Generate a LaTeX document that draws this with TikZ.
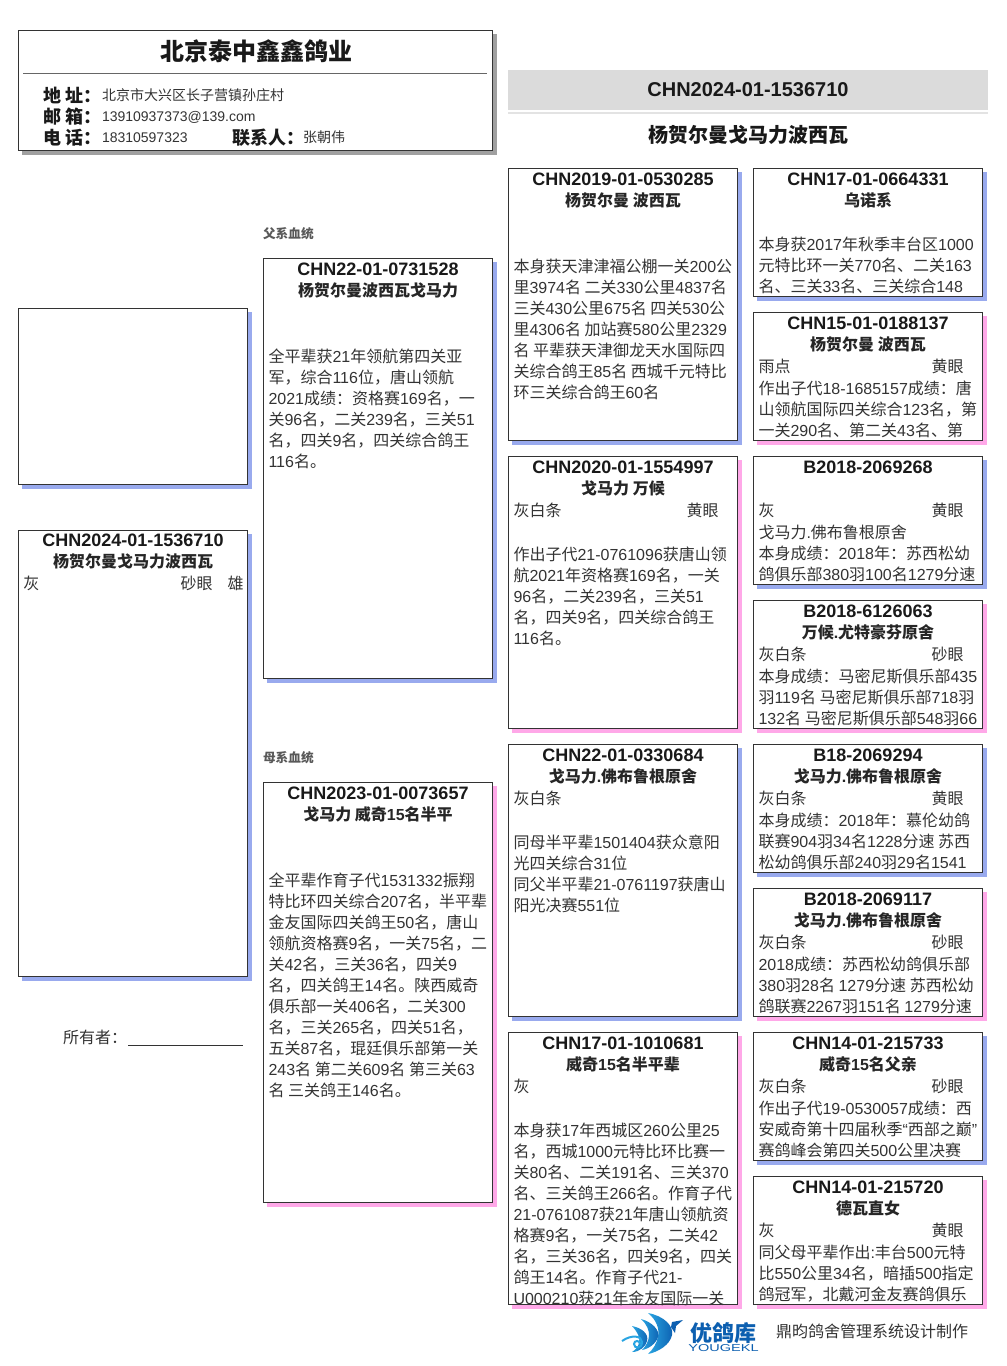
\documentclass[tikz,border=0pt]{standalone}
\usepackage{fontspec}
\setmainfont{Noto Sans CJK SC}
\newfontfamily\cjkfont{Noto Sans CJK SC}
\newfontfamily\latinfont{Liberation Sans}
\ExplSyntaxOn
\int_new:N \l_mix_state_int
\str_new:N \l_mix_text_str
\cs_new_protected:Npn \mix_char:n #1
  {
    \str_if_eq:nnTF {#1} {~}
      { \c_space_tl }
      {
        \bool_lazy_or:nnTF
          { \int_compare_p:nNn { `#1 } < { 128 } }
          { \int_compare_p:nNn { `#1 } = { 8220 } || \int_compare_p:nNn { `#1 } = { 8221 } }
          {
            \int_compare:nNnT \l_mix_state_int = { 0 }
              { \int_set:Nn \l_mix_state_int { 1 } \latinfont }
          }
          {
            \int_compare:nNnT \l_mix_state_int = { 1 }
              { \int_set:Nn \l_mix_state_int { 0 } \cjkfont }
          }
        #1
      }
  }
\NewDocumentCommand \mixtext { m }
  {
    \int_set:Nn \l_mix_state_int { 0 }
    \str_set:Nx \l_mix_text_str { #1 }
    \str_map_inline:Nn \l_mix_text_str { \mix_char:n { ##1 } }
  }
\ExplSyntaxOff
\definecolor{sblue}{HTML}{99AAEE}
\definecolor{spink}{HTML}{FFA8E8}
\definecolor{sgrey}{HTML}{A0A0A0}
\definecolor{bodyc}{HTML}{333333}
\definecolor{edgec}{HTML}{333333}
\definecolor{logob}{HTML}{0C5FB0}
\definecolor{logol}{HTML}{2AA5E2}
\newcounter{tn}
\tikzset{
  x=0.75pt,y=-0.75pt,
  card/.style={draw=edgec,line width=0.75pt,fill=white,inner sep=0pt,outer sep=0pt,anchor=north west},
  bodyline/.style={inner sep=0pt,outer sep=0pt,anchor=base west,text=bodyc,font=\fontsize{12pt}{12pt}\selectfont},
  ringtitle/.style={inner sep=0pt,outer sep=0pt,anchor=base,text=black!90,font=\fontsize{13.5pt}{13.5pt}\selectfont\bfseries},
  ringname/.style={inner sep=0pt,outer sep=0pt,anchor=base,text=black!85,font=\fontsize{12pt}{12pt}\selectfont\bfseries},
  bigtitle/.style={inner sep=0pt,outer sep=0pt,anchor=base,text=black!90,font=\fontsize{15pt}{15pt}\selectfont\bfseries},
  headlabel/.style={inner sep=0pt,outer sep=0pt,anchor=base west,text=black!90,font=\fontsize{13.5pt}{13.5pt}\selectfont\bfseries},
  headvalue/.style={inner sep=0pt,outer sep=0pt,anchor=base west,text=bodyc,font=\fontsize{10.5pt}{10.5pt}\selectfont},
  sidelabel/.style={inner sep=0pt,outer sep=0pt,anchor=base west,text=black!65,font=\fontsize{9.5pt}{9.5pt}\selectfont\bfseries},
}
% name, x, y, w, h, shadow colour
\newcommand\pcard[6]{%
  \fill[#6] (#2+4,#3+4) rectangle (#2+#4+4,#3+#5+4);
  \node[card,minimum width={(#4-1)*0.75pt},minimum height={(#5-1)*0.75pt}] (#1) at (#2+0.5,#3+0.5) {};
}
% box, ring, name (centred lines)
\newcommand\ptitle[3]{%
  \stepcounter{tn}\node[ringtitle,name=t\arabic{tn}] at ([yshift=-17.25*0.75pt]#1.north) {\mixtext{#2}};
  \stepcounter{tn}\node[ringname,name=t\arabic{tn}] at ([yshift=-38*0.75pt]#1.north) {\mixtext{#3}};
}
% box, x offset, centre-y offset, text
\newcommand\pline[4]{%
  \stepcounter{tn}\node[bodyline,name=t\arabic{tn}] at ([shift={(#2,#3+6)}]#1.north west) {\mixtext{#4}};
}
% box, first centre-y offset, lines
\newcommand\prows[3]{%
  \foreach \txt [count=\ii from 0] in {#3}{%
    \pline{#1}{5}{#2+21*\ii}{\txt}
  }%
}
\begin{document}
\begin{tikzpicture}
\useasboundingbox[fill=white] (0,0) rectangle (1006,1366);

% header card
\pcard{head}{18}{30}{475}{121}{sgrey}
\node[inner sep=0pt,outer sep=0pt,anchor=base,text=black!90,font=\fontsize{18pt}{18pt}\selectfont\bfseries] (headt) at (256,61) {北京泰中鑫鑫鸽业};
\coordinate (hrl) at (23,74);
\coordinate (hrr) at (487,74);
\draw[draw=black!60,line width=0.75pt] (hrl) -- (hrr);
\node[headlabel] (la) at (43,102.5) {地 址：};
\node[headvalue] (va) at (102,101) {北京市大兴区长子营镇孙庄村};
\node[headlabel] (lb) at (43,123.5) {邮 箱：};
\node[headvalue] (vb) at (102,122) {\mixtext{13910937373@139.com}};
\node[headlabel] (lc) at (43,144.5) {电 话：};
\node[headvalue] (vc) at (102,143) {\mixtext{18310597323}};
\node[headlabel] (ld) at (232,144.5) {联系人：};
\node[headvalue] (vd) at (303,143) {张朝伟};

% top band
\fill[black!14] (508,70) rectangle (988,110);
\fill[black!11] (508,112) rectangle (988,114);
\node[bigtitle] (bandt) at (748,97) {\mixtext{CHN2024-01-1536710}};
\node[bigtitle] (bandn) at (748,143) {杨贺尔曼戈马力波西瓦};

% side labels
\node[sidelabel] (fa) at (263,238) {父系血统};
\node[sidelabel] (ma) at (263,762) {母系血统};

% left column
\pcard{photo}{18}{308}{230}{177}{sblue}
\pcard{self}{18}{530}{230}{447}{sblue}
\node[ringtitle] (selft) at ([yshift=-16.25*0.75pt]self.north) {\mixtext{CHN2024-01-1536710}};
\node[ringname] (selfn) at ([yshift=-37*0.75pt]self.north) {杨贺尔曼戈马力波西瓦};
\pline{self}{5}{53}{灰}
\pline{self}{162}{53}{砂眼}
\pline{self}{209}{53}{雄}
\node[bodyline] (own) at (63,1043) {所有者：};
\coordinate (ul) at (128,1045);
\coordinate (ur) at (243,1045);
\draw[draw=black!80,line width=0.75pt] (ul) -- (ur);

% parents
\pcard{sire}{263}{258}{230}{421}{sblue}
\ptitle{sire}{CHN22-01-0731528}{杨贺尔曼波西瓦戈马力}
\prows{sire}{98}{全平辈获21年领航第四关亚,军，综合116位，唐山领航,2021成绩：资格赛169名，一,关96名，二关239名，三关51,名，四关9名，四关综合鸽王,116名。}
\pcard{dam}{263}{782}{230}{421}{spink}
\ptitle{dam}{CHN2023-01-0073657}{戈马力 威奇15名半平}
\prows{dam}{98}{全平辈作育子代1531332振翔,特比环四关综合207名，半平辈,金友国际四关鸽王50名，唐山,领航资格赛9名，一关75名，二,关42名，三关36名，四关9,名，四关鸽王14名。陕西威奇,俱乐部一关406名，二关300,名，三关265名，四关51名，,五关87名，琨廷俱乐部第一关,243名 第二关609名 第三关63,名 三关鸽王146名。}

% grandparents
\pcard{gs}{508}{168}{230}{273}{sblue}
\ptitle{gs}{CHN2019-01-0530285}{杨贺尔曼 波西瓦}
\prows{gs}{98}{本身获天津津福公棚一关200公,里3974名 二关330公里4837名,三关430公里675名 四关530公,里4306名 加站赛580公里2329,名 平辈获天津御龙天水国际四,关综合鸽王85名 西城千元特比,环三关综合鸽王60名}
\pcard{gd}{508}{456}{230}{273}{spink}
\ptitle{gd}{CHN2020-01-1554997}{戈马力 万候}
\pline{gd}{5}{54}{灰白条}
\pline{gd}{178}{54}{黄眼}
\prows{gd}{98}{作出子代21-0761096获唐山领,航2021年资格赛169名，一关,96名，二关239名，三关51,名，四关9名，四关综合鸽王,116名。}
\pcard{hs}{508}{744}{230}{273}{sblue}
\ptitle{hs}{CHN22-01-0330684}{戈马力.佛布鲁根原舍}
\pline{hs}{5}{54}{灰白条}
\prows{hs}{98}{同母半平辈1501404获众意阳,光四关综合31位,同父半平辈21-0761197获唐山,阳光决赛551位}
\pcard{hd}{508}{1032}{230}{273}{spink}
\ptitle{hd}{CHN17-01-1010681}{威奇15名半平辈}
\pline{hd}{5}{54}{灰}
\prows{hd}{98}{本身获17年西城区260公里25,名，西城1000元特比环比赛一,关80名、二关191名、三关370,名、三关鸽王266名。作育子代,21-0761087获21年唐山领航资,格赛9名，一关75名，二关42,名，三关36名，四关9名，四关,鸽王14名。作育子代21-,U000210获21年金友国际一关}

% great-grandparents
\pcard{a}{753}{168}{230}{129}{sblue}
\ptitle{a}{CHN17-01-0664331}{乌诺系}
\prows{a}{76}{本身获2017年秋季丰台区1000,元特比环一关770名、二关163,名、三关33名、三关综合148}
\pcard{b}{753}{312}{230}{129}{spink}
\ptitle{b}{CHN15-01-0188137}{杨贺尔曼 波西瓦}
\pline{b}{5}{54}{雨点}
\pline{b}{178}{54}{黄眼}
\prows{b}{76}{作出子代18-1685157成绩：唐,山领航国际四关综合123名，第,一关290名、第二关43名、第}
\pcard{c}{753}{456}{230}{129}{sblue}
\ptitle{c}{B2018-2069268}{}
\pline{c}{5}{54}{灰}
\pline{c}{178}{54}{黄眼}
\prows{c}{76}{戈马力.佛布鲁根原舍,本身成绩：2018年：苏西松幼,鸽俱乐部380羽100名1279分速}
\pcard{d}{753}{600}{230}{129}{spink}
\ptitle{d}{B2018-6126063}{万候.尤特豪芬原舍}
\pline{d}{5}{54}{灰白条}
\pline{d}{178}{54}{砂眼}
\prows{d}{76}{本身成绩：马密尼斯俱乐部435,羽119名 马密尼斯俱乐部718羽,132名 马密尼斯俱乐部548羽66}
\pcard{e}{753}{744}{230}{129}{sblue}
\ptitle{e}{B18-2069294}{戈马力.佛布鲁根原舍}
\pline{e}{5}{54}{灰白条}
\pline{e}{178}{54}{黄眼}
\prows{e}{76}{本身成绩：2018年：慕伦幼鸽,联赛904羽34名1228分速 苏西,松幼鸽俱乐部240羽29名1541}
\pcard{f}{753}{888}{230}{129}{spink}
\ptitle{f}{B2018-2069117}{戈马力.佛布鲁根原舍}
\pline{f}{5}{54}{灰白条}
\pline{f}{178}{54}{砂眼}
\prows{f}{76}{2018成绩：苏西松幼鸽俱乐部,380羽28名 1279分速 苏西松幼,鸽联赛2267羽151名 1279分速}
\pcard{g}{753}{1032}{230}{129}{sblue}
\ptitle{g}{CHN14-01-215733}{威奇15名父亲}
\pline{g}{5}{54}{灰白条}
\pline{g}{178}{54}{砂眼}
\prows{g}{76}{作出子代19-0530057成绩：西,安威奇第十四届秋季“西部之巅”,赛鸽峰会第四关500公里决赛}
\pcard{h}{753}{1176}{230}{129}{spink}
\ptitle{h}{CHN14-01-215720}{德瓦直女}
\pline{h}{5}{54}{灰}
\pline{h}{178}{54}{黄眼}
\prows{h}{76}{同父母平辈作出:丰台500元特,比550公里34名，暗插500指定,鸽冠军，北戴河金友赛鸽俱乐}

% logo
\shade[left color=logol,right color=logob] (648,1313) .. controls (664,1316) and (674,1326) .. (672,1335) .. controls (670,1345) and (658,1352) .. (648,1354) .. controls (657,1346) and (666,1328) .. (648,1313) -- cycle;
\shade[left color=logol,right color=logob] (641,1319) .. controls (652,1322) and (660,1330) .. (658,1337) .. controls (656,1344) and (648,1349) .. (642,1350) .. controls (650,1342) and (653,1330) .. (641,1319) -- cycle;
\shade[left color=logol,right color=logob] (632,1326) .. controls (642,1328) and (649,1334) .. (647,1341) .. controls (646,1346) and (640,1352) .. (632,1352) .. controls (638,1348) and (645,1340) .. (632,1326) -- cycle;
\fill[logob] (672,1322) -- (683,1320) -- (676,1326) -- (675,1333) -- (671,1327) -- cycle;
\draw[logol,line width=1.5pt] (640,1344) .. controls (640,1340) and (634,1340) .. (634,1344) .. controls (634,1349) and (642,1349) .. (642,1342) .. controls (642,1336) and (632,1334) .. (622,1341);
\node[inner sep=0pt,outer sep=0pt,anchor=base west,text=logob,font=\fontsize{16.5pt}{16.5pt}\selectfont\bfseries] (lg) at (690,1341) {优鸽库};
\node[inner sep=0pt,outer sep=0pt,anchor=base,text=logob,font=\fontsize{7.5pt}{7.5pt}\selectfont,xscale=1.45,transform shape] (lgy) at (723.5,1351) {\mixtext{YOUGEKL}};
\node[bodyline] (make) at (776,1337) {鼎昀鸽舍管理系统设计制作};
\end{tikzpicture}
\end{document}
